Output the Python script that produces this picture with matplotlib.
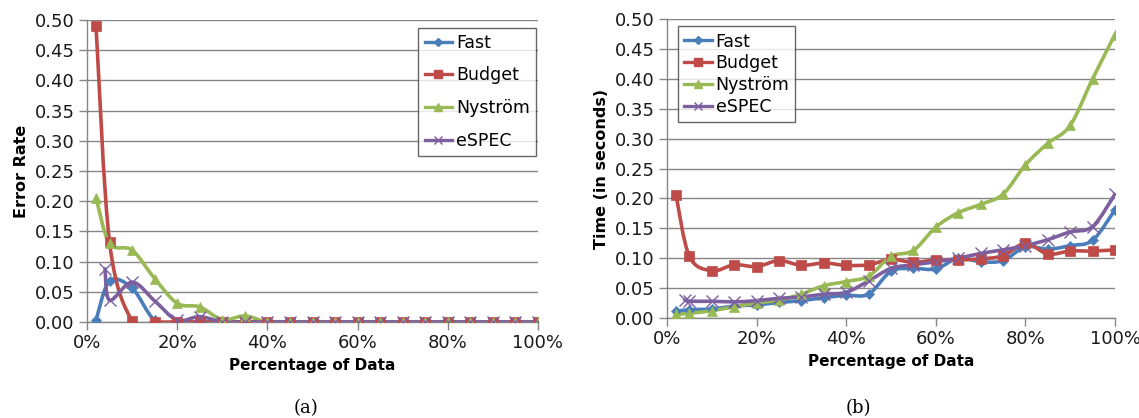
import matplotlib
matplotlib.use("Agg")
import matplotlib.pyplot as plt
from matplotlib.path import Path
from matplotlib.patches import PathPatch
from matplotlib.lines import Line2D
from matplotlib.ticker import FuncFormatter

plt.rcParams['font.family'] = ['DejaVu Sans']

# ---------------- data ----------------
pct = [2, 5, 10, 15, 20, 25, 30, 35, 40, 45, 50, 55, 60, 65, 70, 75, 80, 85, 90, 95, 100]
pct_espec = [4, 5, 10, 15, 20, 25, 30, 35, 40, 45, 50, 55, 60, 65, 70, 75, 80, 85, 90, 95, 100]

err_fast = [0.003, 0.068, 0.056, 0.003, 0, 0, 0, 0, 0, 0, 0, 0, 0, 0, 0, 0, 0, 0, 0, 0, 0]
err_budget = [0.490, 0.132, 0.002, 0, 0, 0, 0, 0, 0, 0, 0, 0, 0, 0, 0, 0, 0, 0, 0, 0, 0]
err_nystrom = [0.206, 0.130, 0.119, 0.072, 0.031, 0.025, 0.004, 0.010, 0, 0, 0, 0, 0, 0, 0, 0, 0, 0, 0, 0, 0]
err_espec = [0.088, 0.036, 0.066, 0.035, 0.003, 0.009, 0, 0, 0, 0, 0, 0, 0, 0, 0, 0, 0, 0, 0, 0, 0]

time_fast = [0.011, 0.014, 0.015, 0.020, 0.022, 0.026, 0.029, 0.034, 0.038, 0.040, 0.078, 0.083,
             0.082, 0.100, 0.094, 0.096, 0.119, 0.115, 0.121, 0.130, 0.181]
time_budget = [0.206, 0.103, 0.079, 0.089, 0.086, 0.096, 0.088, 0.092, 0.088, 0.089, 0.098, 0.093,
               0.097, 0.097, 0.099, 0.104, 0.125, 0.107, 0.112, 0.112, 0.114]
time_nystrom = [0.006, 0.008, 0.012, 0.019, 0.025, 0.030, 0.040, 0.054, 0.061, 0.070, 0.103, 0.113,
                0.152, 0.176, 0.190, 0.207, 0.256, 0.292, 0.322, 0.400, 0.474]
time_espec = [0.030, 0.028, 0.028, 0.027, 0.029, 0.033, 0.035, 0.040, 0.043, 0.062, 0.083, 0.089,
              0.094, 0.100, 0.108, 0.114, 0.121, 0.131, 0.144, 0.153, 0.207]

series_names = ["Fast", "Budget", "Nyström", "eSPEC"]
x_ticks = [0, 20, 40, 60, 80, 100]
y_ticks = [0.00, 0.05, 0.10, 0.15, 0.20, 0.25, 0.30, 0.35, 0.40, 0.45, 0.50]

# ---------------- style ----------------
colors = ["#4A7EBB", "#BE4B48", "#98B954", "#7D5FA0"]
markers = ["D", "s", "^", "x"]
msizes = [5, 7.5, 7.5, 8]
gray = "#868686"


def smooth_path(xs, ys):
    pts = list(zip(xs, ys))
    n = len(pts)
    verts = [pts[0]]
    codes = [Path.MOVETO]
    for i in range(n - 1):
        p0 = pts[i - 1] if i > 0 else pts[i]
        p1 = pts[i]
        p2 = pts[i + 1]
        p3 = pts[i + 2] if i + 2 < n else pts[i + 1]
        c1 = (p1[0] + (p2[0] - p0[0]) / 6.0, p1[1] + (p2[1] - p0[1]) / 6.0)
        c2 = (p2[0] - (p3[0] - p1[0]) / 6.0, p2[1] - (p3[1] - p1[1]) / 6.0)
        verts += [c1, c2, p2]
        codes += [Path.CURVE4] * 3
    return Path(verts, codes)


def draw_series(ax, xs, ys, k):
    patch = PathPatch(smooth_path(xs, ys), fill=False, edgecolor=colors[k], lw=2.6,
                      zorder=3 + k * 0.1, capstyle='round', joinstyle='round')
    ax.add_patch(patch)
    ax.plot(xs, ys, linestyle='none', marker=markers[k], ms=msizes[k], color=colors[k],
            mec=colors[k], mew=1.0 if markers[k] == 'x' else 0.5, zorder=4 + k * 0.1)


def style_axes(ax, ylabel):
    ax.set_xlim(0, 100)
    ax.set_ylim(0, 0.5)
    ax.set_xticks(x_ticks)
    ax.set_yticks(y_ticks)
    ax.xaxis.set_major_formatter(FuncFormatter(lambda v, p: f"{int(v)}%"))
    ax.yaxis.set_major_formatter(FuncFormatter(lambda v, p: f"{v:.2f}"))
    ax.grid(axis='y', color=gray, lw=1.0, zorder=0)
    ax.set_axisbelow(True)
    for s in ['top', 'right']:
        ax.spines[s].set_visible(False)
    for s in ['left', 'bottom']:
        ax.spines[s].set_color(gray)
        ax.spines[s].set_linewidth(1.0)
    ax.tick_params(axis='both', direction='out', length=6, width=1.0, color=gray,
                   labelsize=13, labelcolor='#1a1a1a', pad=3)
    ax.set_xlabel("Percentage of Data", fontsize=11, fontweight='bold', labelpad=4)
    ax.set_ylabel(ylabel, fontsize=11.5, fontweight='bold', labelpad=4)


fig = plt.figure(figsize=(11.39, 4.18), dpi=100)
W, H = 1139.0, 418.0
ax1 = fig.add_axes([87 / W, 1 - 322 / H, (538 - 87) / W, (322 - 20) / H])
ax2 = fig.add_axes([667 / W, 1 - 318 / H, (1115 - 667) / W, (318 - 19) / H])

for k, (xs, ys) in enumerate(zip([pct, pct, pct, pct_espec],
                                 [err_fast, err_budget, err_nystrom, err_espec])):
    draw_series(ax1, xs, ys, k)
for k, (xs, ys) in enumerate(zip([pct, pct, pct, pct_espec],
                                 [time_fast, time_budget, time_nystrom, time_espec])):
    draw_series(ax2, xs, ys, k)

style_axes(ax1, "Error Rate")
style_axes(ax2, "Time (in seconds)")

handles = [Line2D([0], [0], color=colors[k], lw=2.4, marker=markers[k], ms=msizes[k] * 0.75,
                  mec=colors[k]) for k in range(4)]
for ax, bbox, sp in [(ax1, (0.735, 0.975), 0.85),
                     (ax2, (0.025, 0.975), 0.22)]:
    leg = ax.legend(handles, series_names, loc='upper left', bbox_to_anchor=bbox, fontsize=12.5,
                    frameon=True, fancybox=False, handlelength=1.6, handletextpad=0.2,
                    labelspacing=sp, borderpad=0.35, borderaxespad=0)
    leg.get_frame().set_edgecolor('#404040')
    leg.get_frame().set_linewidth(1.0)
    leg.set_zorder(10)

fig.text(306 / W, 1 - 408 / H, "(a)", family='DejaVu Serif', fontsize=13, ha='center', va='center')
fig.text(858 / W, 1 - 408 / H, "(b)", family='DejaVu Serif', fontsize=13, ha='center', va='center')

fig.savefig("out.png", dpi=100)
